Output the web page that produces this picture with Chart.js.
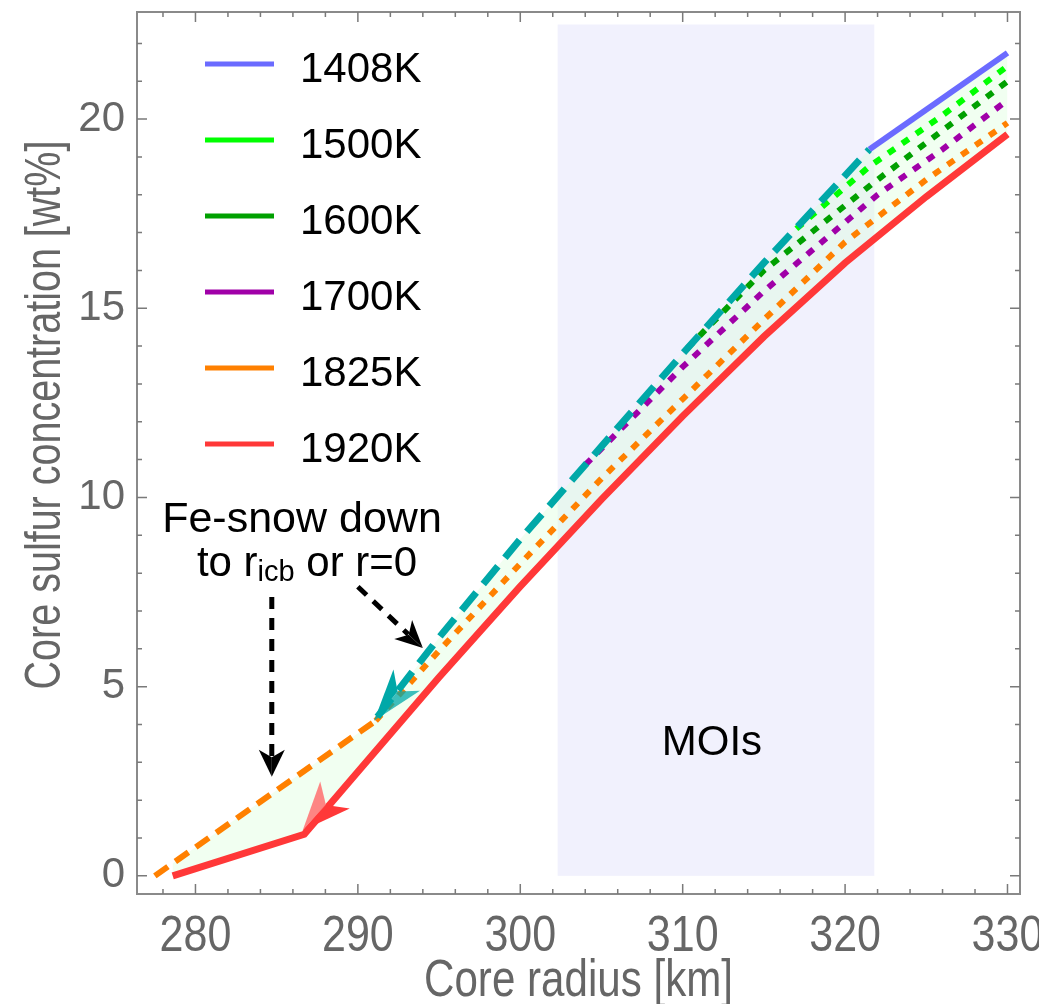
<!DOCTYPE html>
<html>
<head>
<meta charset="utf-8">
<script src="https://cdn.jsdelivr.net/npm/chart.js@4.4.0/dist/chart.umd.min.js"></script>
<style>
  html, body { margin: 0; padding: 0; background: #fff; }
  #wrap { width: 1039px; height: 1004px; }
</style>
</head>
<body>
<div id="wrap"><canvas id="c" width="1039" height="1004"></canvas></div>
<script>
// ---- data ----
const seriesNames = ['1408K', '1500K', '1600K', '1700K', '1825K', '1920K'];
const seriesColors = ['#6b6bff', '#00ff00', '#00a000', '#a000a8', '#ff8000', '#ff3838'];
const snowColor = '#00a8a8';

// 1408K: Fe-snow branch (teal dashed) then solid
const xSnow = [291.2, 295, 300, 305, 310, 315, 321.5];
const ySnow = [4.2, 6.3, 8.9, 11.35, 13.8, 16.2, 19.2];
const x1408 = [321.5, 330];
const y1408 = [19.2, 21.75];

const x1500 = [317, 321.5, 326, 330];
const y1500 = [17.1, 18.75, 20.1, 21.4];

const x1600 = [310.3, 315, 321.7, 326, 330];
const y1600 = [13.95, 16.0, 18.3, 19.7, 21.0];

const x1700 = [304, 310, 315, 322, 326, 330];
const y1700 = [10.86, 13.45, 15.45, 18.0, 19.2, 20.5];

// 1825K: snow part (dashed) and dotted part
const x1825snow = [277.5, 291.1];
const y1825snow = [0, 4.1];
const x1825 = [291.1, 295, 300, 305, 310, 315, 320, 325, 330];
const y1825 = [4.1, 5.95, 8.25, 10.5, 12.6, 14.7, 16.75, 18.4, 19.9];

const x1920 = [278.6, 286.7, 290, 295, 300, 305, 310, 315, 320, 325, 330];
const y1920 = [0, 1.1, 2.75, 5.25, 7.65, 9.95, 12.15, 14.25, 16.2, 17.95, 19.6];

const xTicks = [280, 290, 300, 310, 320, 330];
const yTicks = [0, 5, 10, 15, 20];
const moiRange = [302.3, 321.8];
const moiTop = 22.5;

const pts = (xs, ys) => xs.map((x, i) => ({ x: x, y: ys[i] }));

// upper edge of the shaded region
const envelope = pts(x1825snow, y1825snow)
  .concat(pts(xSnow, ySnow).slice(1))
  .concat(pts(x1408, y1408).slice(1));

const TXT = '"Liberation Sans", Arial, Helvetica, sans-serif';

function line(data, color, width, dash, order) {
  return {
    data: data, borderColor: color, borderWidth: width, borderDash: dash || [],
    borderCapStyle: 'butt', pointRadius: 0, tension: 0, fill: false, order: order
  };
}

const datasets = [
  line(pts(x1920, y1920), seriesColors[5], 7, [], 3),                 // 0
  line(pts(x1408, y1408), seriesColors[0], 6, [], 1),                 // 1
  line(pts(xSnow, ySnow), snowColor, 7, [23, 11], 2),                 // 2
  line(pts(x1500, y1500), seriesColors[1], 6, [8, 9], 8),             // 3
  line(pts(x1600, y1600), seriesColors[2], 6, [8, 9], 7),             // 4
  line(pts(x1700, y1700), seriesColors[3], 6, [8, 9], 6),             // 5
  line(pts(x1825, y1825), seriesColors[4], 6, [8, 9], 5),             // 6
  line(pts(x1825snow, y1825snow), seriesColors[4], 6, [16, 9], 4),    // 7
  { data: envelope, borderWidth: 0, pointRadius: 0, tension: 0, order: 10,
    fill: { target: 0 }, backgroundColor: 'rgba(215,255,215,0.35)' }  // 8
];

function arrowHead(ctx, tip, from, len, halfW, c1, c2) {
  const dx = tip.x - from.x, dy = tip.y - from.y;
  const L = Math.hypot(dx, dy);
  const ux = dx / L, uy = dy / L, nx = -uy, ny = ux;
  const bx = tip.x - ux * len, by = tip.y - uy * len;
  const mx = tip.x - ux * len * 0.72, my = tip.y - uy * len * 0.72;
  ctx.fillStyle = c1;
  ctx.beginPath();
  ctx.moveTo(tip.x, tip.y); ctx.lineTo(bx + nx * halfW, by + ny * halfW); ctx.lineTo(mx, my);
  ctx.closePath(); ctx.fill();
  ctx.fillStyle = c2;
  ctx.beginPath();
  ctx.moveTo(tip.x, tip.y); ctx.lineTo(bx - nx * halfW, by - ny * halfW); ctx.lineTo(mx, my);
  ctx.closePath(); ctx.fill();
}

// narrow text: regular font squeezed horizontally (the original uses a condensed face)
function narrowText(ctx, str, px, py, size, squeeze, rot) {
  ctx.save();
  ctx.translate(px, py);
  if (rot) ctx.rotate(rot);
  ctx.scale(squeeze, 1);
  ctx.font = size + 'px ' + TXT;
  ctx.fillText(str, 0, 0);
  ctx.restore();
}

const decor = {
  id: 'decor',
  beforeDatasetsDraw(chart) {
    const { ctx, scales: { x, y } } = chart;
    ctx.save();
    ctx.fillStyle = '#f1f1fd';
    const x0 = x.getPixelForValue(moiRange[0]), x1 = x.getPixelForValue(moiRange[1]);
    const yt = y.getPixelForValue(moiTop), yb = y.getPixelForValue(0);
    ctx.fillRect(x0, yt, x1 - x0, yb - yt);
    ctx.restore();
  },
  afterDatasetsDraw(chart) {
    const { ctx, chartArea: a, scales: { x, y } } = chart;
    const P = (vx, vy) => ({ x: x.getPixelForValue(vx), y: y.getPixelForValue(vy) });
    ctx.save();

    // arrowheads on the curves
    arrowHead(ctx, P(286.6, 1.2), P(290, 2.8), 48, 20, 'rgba(255,120,120,0.9)', '#ff3838');
    arrowHead(ctx, P(291.0, 4.1), P(294, 5.7), 52, 17, '#00a8a8', 'rgba(0,168,168,0.75)');

    // black dashed pointer arrows
    ctx.strokeStyle = '#000';
    ctx.lineWidth = 5;
    ctx.setLineDash([12, 9]);
    let s = P(284.7, 7.37), t = P(284.7, 2.62);
    ctx.beginPath(); ctx.moveTo(s.x, s.y); ctx.lineTo(t.x, t.y - 20); ctx.stroke();
    ctx.setLineDash([]);
    arrowHead(ctx, t, s, 27, 13, '#000', '#000');
    s = P(290.0, 7.64); t = P(294.0, 6.02);
    const dl = Math.hypot(t.x - s.x, t.y - s.y);
    ctx.setLineDash([12, 9]);
    ctx.beginPath(); ctx.moveTo(s.x, s.y);
    ctx.lineTo(t.x - (t.x - s.x) / dl * 20, t.y - (t.y - s.y) / dl * 20); ctx.stroke();
    ctx.setLineDash([]);
    arrowHead(ctx, t, s, 27, 13, '#000', '#000');

    // annotation text
    ctx.fillStyle = '#000';
    ctx.textBaseline = 'alphabetic';
    ctx.textAlign = 'center';
    ctx.font = '43px ' + TXT;
    let p = P(286.56, 9.09);
    ctx.fillText('Fe-snow down', p.x, p.y);
    ctx.font = '42px ' + TXT;
    p = P(311.8, 3.2);
    ctx.fillText('MOIs', p.x, p.y);

    p = P(286.87, 7.93);
    const big = '42px ' + TXT, small = '29px ' + TXT;
    ctx.textAlign = 'left';
    ctx.font = big; const w1 = ctx.measureText('to r').width, w3 = ctx.measureText(' or r=0').width;
    ctx.font = small; const w2 = ctx.measureText('icb').width;
    let cx = p.x - (w1 + w2 + w3) / 2;
    ctx.font = big; ctx.fillText('to r', cx, p.y); cx += w1;
    ctx.font = small; ctx.fillText('icb', cx, p.y + 5); cx += w2;
    ctx.font = big; ctx.fillText(' or r=0', cx, p.y);

    // legend
    ctx.font = '42px ' + TXT;
    seriesNames.forEach((n, i) => {
      const ly = 64 + 76 * i;
      ctx.strokeStyle = seriesColors[i];
      ctx.lineWidth = 5;
      ctx.beginPath(); ctx.moveTo(205, ly); ctx.lineTo(274, ly); ctx.stroke();
      ctx.fillStyle = '#000';
      ctx.fillText(n, 300, ly + 18);
    });

    // x tick labels and axis titles (condensed, grey)
    ctx.fillStyle = '#666';
    ctx.textAlign = 'center';
    xTicks.forEach(v => narrowText(ctx, String(v), x.getPixelForValue(v), a.bottom + 57, 50, 0.86));
    narrowText(ctx, 'Core radius [km]', (a.left + a.right) / 2, 996, 52, 0.81);
    narrowText(ctx, 'Core sulfur concentration [wt%]', 60, 415, 50, 0.79, -Math.PI / 2);

    // frame and inward ticks on all four sides
    ctx.strokeStyle = '#8a8a8a';
    ctx.lineWidth = 2;
    ctx.strokeRect(a.left, a.top, a.right - a.left, a.bottom - a.top);
    ctx.lineWidth = 1.5;
    ctx.strokeStyle = '#7a7a7a';
    ctx.beginPath();
    for (let v = 278; v <= 330; v += 2) {
      const px = x.getPixelForValue(v), len = v % 10 === 0 ? 10 : 5;
      ctx.moveTo(px, a.bottom); ctx.lineTo(px, a.bottom - len);
      ctx.moveTo(px, a.top); ctx.lineTo(px, a.top + len);
    }
    for (let v = 0; v <= 22; v += 1) {
      const py = y.getPixelForValue(v), len = v % 5 === 0 ? 10 : 5;
      ctx.moveTo(a.left, py); ctx.lineTo(a.left + len, py);
      ctx.moveTo(a.right, py); ctx.lineTo(a.right - len, py);
    }
    ctx.stroke();
    ctx.restore();
  }
};

new Chart(document.getElementById('c'), {
  type: 'line',
  data: { datasets: datasets },
  options: {
    responsive: false,
    animation: false,
    devicePixelRatio: 1,
    layout: { padding: { top: 12, right: 19, left: 0, bottom: 0 } },
    plugins: { legend: { display: false }, tooltip: { enabled: false } },
    scales: {
      x: {
        type: 'linear', min: 276.4, max: 330.77,
        afterBuildTicks: s => { s.ticks = xTicks.map(v => ({ value: v })); },
        afterFit: s => { s.height = 110; s.paddingLeft = 0; s.paddingRight = 0; },
        grid: { display: false, drawTicks: false },
        border: { display: false },
        ticks: { display: false },
        title: { display: false }
      },
      y: {
        type: 'linear', min: -0.48, max: 22.83,
        afterBuildTicks: s => { s.ticks = yTicks.map(v => ({ value: v })); },
        afterFit: s => { s.width = 137; s.paddingTop = 0; s.paddingBottom = 0; },
        grid: { display: false, drawTicks: false },
        border: { display: false },
        ticks: { color: '#666', padding: 12, font: { family: TXT, size: 42 } },
        title: { display: false }
      }
    }
  },
  plugins: [decor]
});
</script>
</body>
</html>
